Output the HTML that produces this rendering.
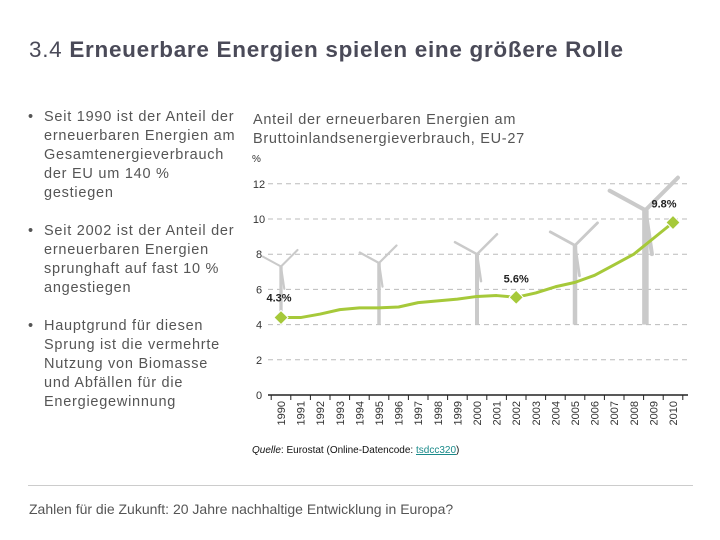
<!DOCTYPE html>
<html><head><meta charset="utf-8"><style>
body{margin:0;width:720px;height:540px;background:#fff;font-family:"Liberation Sans",sans-serif;color:#444;position:relative;overflow:hidden}
.t{position:absolute;white-space:nowrap}
ul{position:absolute;left:28px;top:108px;margin:0;padding:0;list-style:none;font-size:14.5px;line-height:19px;color:#555;letter-spacing:0.75px}
li{position:relative;padding-left:16px}
li:before{content:"•";position:absolute;left:0}
</style></head><body>
<div class="t" style="left:29px;top:37px;font-size:22.5px;color:#4a4a58;letter-spacing:0.7px">3.4 <b>Erneuerbare Energien spielen eine größere Rolle</b></div>
<ul>
<li style="margin-bottom:19px">Seit 1990 ist der Anteil der<br>erneuerbaren Energien am<br>Gesamtenergieverbrauch<br>der EU um 140 %<br>gestiegen</li>
<li style="margin-bottom:19px">Seit 2002 ist der Anteil der<br>erneuerbaren Energien<br>sprunghaft auf fast 10 %<br>angestiegen</li>
<li>Hauptgrund für diesen<br>Sprung ist die vermehrte<br>Nutzung von Biomasse<br>und Abfällen für die<br>Energiegewinnung</li>
</ul>
<div class="t" style="left:253px;top:111px;font-size:14.5px;line-height:19px;color:#555;letter-spacing:0.7px">Anteil der erneuerbaren Energien am<br>Bruttoinlandsenergieverbrauch, EU-27</div>
<svg id="c" width="720" height="540" style="position:absolute;left:0;top:0"></svg>
<div class="t" style="left:252px;top:445px;font-size:10px;color:#111"><i>Quelle</i>: Eurostat (Online-Datencode: <span style="color:#1a8a8a;text-decoration:underline">tsdcc320</span>)</div>
<div style="position:absolute;left:28px;top:485px;width:665px;height:1px;background:#ccc"></div>
<div class="t" style="left:29px;top:501px;font-size:14px;color:#555">Zahlen für die Zukunft: 20 Jahre nachhaltige Entwicklung in Europa?</div>
<script>
const years=[1990,1991,1992,1993,1994,1995,1996,1997,1998,1999,2000,2001,2002,2003,2004,2005,2006,2007,2008,2009,2010];
const values=[4.4,4.4,4.6,4.85,4.95,4.95,5.0,5.25,5.35,5.45,5.6,5.65,5.55,5.8,6.15,6.4,6.8,7.4,8.0,8.9,9.8];
const yTicks=[0,2,4,6,8,10,12];
const highlightIdx=[0,12,20];
const highlightLabels=["4.3%","5.6%","9.8%"];
const turbineYears=[1990,1995,2000,2005,2009];
const turbineHeights=[7.3,7.5,8.0,8.5,10.5];
const ns="http://www.w3.org/2000/svg",svg=document.getElementById('c');
const X=y=>281+(y-1990)*19.6, Y=v=>395-v*17.6;
function el(t,a,p){const e=document.createElementNS(ns,t);for(const k in a)e.setAttribute(k,a[k]);(p||svg).appendChild(e);return e;}
let u=el('text',{x:252,y:162,'font-size':10,fill:'#333'});u.textContent='%';


yTicks.forEach(v=>{
 if(v>0){const g=el('line',{x1:268,x2:688,y1:Y(v),y2:Y(v),stroke:'#bbb','stroke-dasharray':'5,4'});
 
 }
 const t=el('text',{x:259,y:Y(v)+4,'font-size':11,fill:'#333','text-anchor':'middle'});t.textContent=v;
 
 
});
turbineYears.forEach((yr,i)=>{
 const cx=X(yr)+(i==4?-8:0),hy=Y(turbineHeights[i]),s=(turbineHeights[i]-4)/4;
 const g=el('g',{fill:'#cacaca',stroke:'#cacaca'});
 
 
 el('rect',{x:cx-2*s,y:hy,width:4*s,height:Y(4)-hy,stroke:'none'},g);
 el('line',{x1:cx,y1:hy,x2:cx-22*s,y2:hy-12*s,'stroke-width':2.5*s,'stroke-linecap':'round'},g);
 el('line',{x1:cx,y1:hy,x2:cx+20*s,y2:hy-20*s,'stroke-width':2.5*s,'stroke-linecap':'round'},g);
 el('line',{x1:cx,y1:hy,x2:cx+4*s,y2:hy+27*s,'stroke-width':2.5*s,'stroke-linecap':'round'},g);
});
const ax=el('line',{x1:268,x2:688,y1:395,y2:395,stroke:'#222','stroke-width':1.5});


years.forEach((yr,i)=>{
 const x=X(yr)-9.8;el('line',{x1:x,x2:x,y1:395,y2:400,stroke:'#222'});
 if(i==years.length-1)el('line',{x1:x+19.6,x2:x+19.6,y1:395,y2:400,stroke:'#222'});
 const t=el('text',{x:0,y:0,'font-size':11,fill:'#333','text-anchor':'end',transform:`translate(${X(yr)+4},401) rotate(-90)`});t.textContent=yr;
 
 
});
const ln=el('polyline',{points:values.map((v,i)=>X(years[i])+','+Y(v)).join(' '),fill:'none',stroke:'#a6c93a','stroke-width':3,'stroke-linejoin':'round'});


highlightIdx.forEach((idx,k)=>{
 const x=X(years[idx]),y=Y(values[idx]);
 const m=el('rect',{x:x-5,y:y-5,width:10,height:10,fill:'#a6c93a',stroke:'#fff','stroke-width':1,transform:`rotate(45 ${x} ${y})`});
 
 
 const dx=[-2,0,-9][k],dy=[-16,-15,-15][k];
 const t=el('text',{x:x+dx,y:y+dy,'font-size':11,'font-weight':'bold',fill:'#222','text-anchor':'middle'});t.textContent=highlightLabels[k];
 
 
});
</script>
</body></html>
